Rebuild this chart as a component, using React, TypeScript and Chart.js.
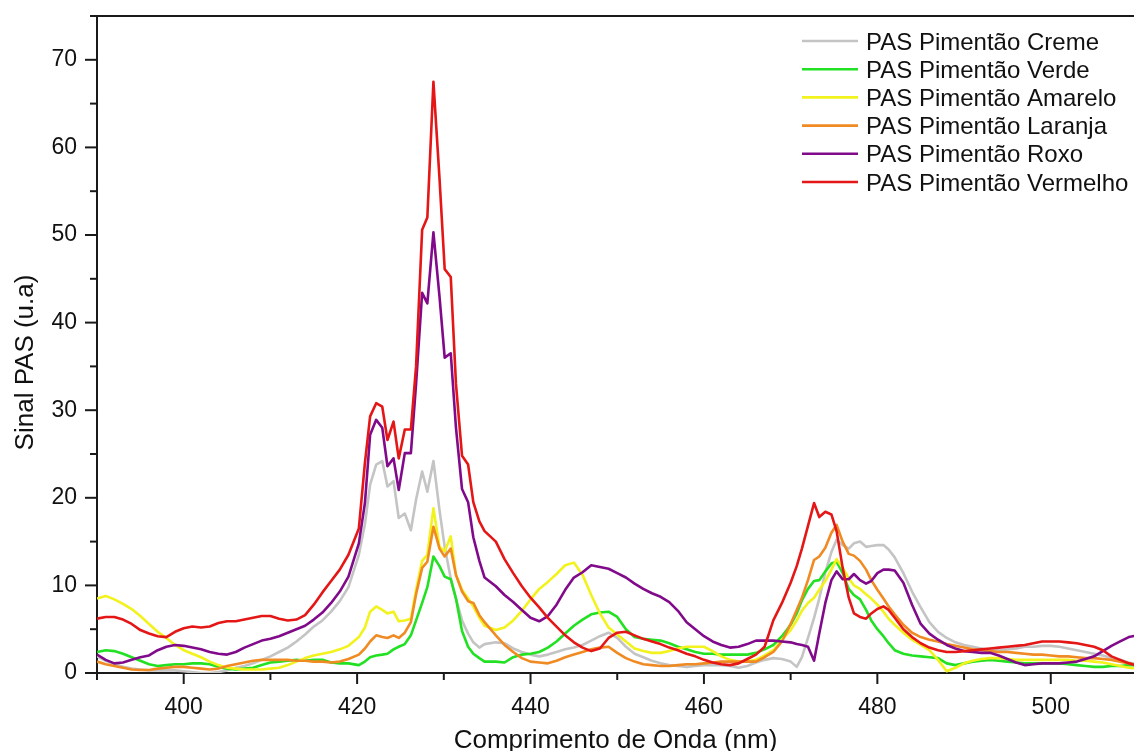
import React, { useEffect, useRef } from "react";
import { Chart, registerables } from "chart.js";

Chart.register(...registerables);

const FONT = "'Liberation Sans', Arial, Helvetica, sans-serif";
const AXIS_COLOR = "#1a1a1a";
const TEXT_COLOR = "#111111";

const xTitle = "Comprimento de Onda (nm)";
const yTitle = "Sinal PAS (u.a)";

const xTickValues = [390, 400, 410, 420, 430, 440, 450, 460, 470, 480, 490, 500];
const yTickValues = [0, 5, 10, 15, 20, 25, 30, 35, 40, 45, 50, 55, 60, 65, 70, 75];

const seriesLabels = [
  "PAS Pimentão Creme",
  "PAS Pimentão Verde",
  "PAS Pimentão Amarelo",
  "PAS Pimentão Laranja",
  "PAS Pimentão Roxo",
  "PAS Pimentão Vermelho",
];
const seriesColors = ["#c4c4c4", "#22e022", "#f2f21c", "#f08a22", "#800a8a", "#e41616"];

// wavelength (nm)
const wavelengths = [
  390, 391, 392, 393, 394, 395, 396, 397, 398, 399,
  400, 401, 402, 403, 404, 405, 406, 407, 408, 409,
  410, 411, 412, 413, 414, 415, 416, 417, 418, 419,
  420.2, 420.9, 421.5, 422.2, 422.9, 423.5, 424.2, 424.8, 425.5, 426.2, 426.8, 427.5,
  428.1, 428.8, 429.5, 430.1, 430.8, 431.4, 432.1, 432.8, 433.4, 434.1, 434.7,
  436, 437, 438, 439, 440, 441, 442, 443, 444, 445, 446, 447, 448, 449, 450, 451,
  452, 453, 454, 455, 456, 457, 458, 459, 460, 461, 462, 463, 464, 465, 466, 467, 468, 469,
  470.0, 470.7, 471.3, 472.0, 472.7, 473.3, 474.0, 474.7, 475.3, 476.0, 476.7, 477.3,
  478.0, 478.7, 479.3, 480.0, 480.7, 481.3, 482.0,
  483, 484, 485, 486, 487, 488, 489, 490, 491, 492, 493, 494, 495, 496, 497, 498,
  499, 500, 501, 502, 503, 504, 505, 506, 507, 508, 509, 510,
];

const creme = [
  1.9, 1.4, 1.0, 0.7, 0.5, 0.4, 0.3, 0.3, 0.3, 0.3, 0.2, 0.1, 0.0, 0.0, 0.1, 0.3, 0.6, 0.8, 1.1, 1.5,
  1.9, 2.4, 2.9, 3.6, 4.4, 5.3, 6.0, 7.0, 8.2, 9.8,
  13.5, 17.0, 21.5, 23.8, 24.2, 21.3, 21.9, 17.7, 18.2, 16.3, 19.8, 23.0, 20.7, 24.2, 18.6, 14.4,
  10.8, 8.5, 6.0, 4.5, 3.5, 2.9, 3.3,
  3.5, 3.4, 2.8, 2.4, 2.1, 1.9, 2.1, 2.4, 2.7, 2.9, 3.2, 3.7, 4.2, 4.6, 4.0, 3.0, 2.2, 1.8, 1.4, 1.1,
  0.9, 0.8, 0.7, 0.8, 0.9, 0.9, 0.9, 0.8, 0.6, 0.8, 1.2, 1.5, 1.7, 1.6,
  1.3, 0.7, 1.8, 4.0, 6.3, 8.5, 11.5, 13.8, 15.2, 14.6, 14.2, 14.8, 15.0, 14.4, 14.5, 14.6, 14.6, 14.1, 13.2,
  11.4, 9.3, 7.5, 5.8, 4.7, 4.0, 3.5, 3.2, 3.0, 2.8, 2.6, 2.6, 2.7, 2.8, 3.0, 3.0, 3.1, 3.1, 3.0, 2.8,
  2.6, 2.4, 2.2, 2.0, 1.7, 1.5, 1.2, 1.0,
];

const verde = [
  2.4, 2.6, 2.5, 2.2, 1.8, 1.4, 1.0, 0.8, 0.9, 1.0, 1.0, 1.1, 1.1, 1.0, 0.7, 0.5, 0.4, 0.5, 0.6, 0.9,
  1.2, 1.3, 1.4, 1.5, 1.4, 1.5, 1.5, 1.2, 1.1, 1.1,
  0.9, 1.3, 1.8, 2.0, 2.1, 2.2, 2.7, 3.0, 3.3, 4.3, 6.0, 8.0, 9.8, 13.3, 12.2, 11.0, 10.7, 8.5, 4.8,
  3.0, 2.2, 1.7, 1.3,
  1.3, 1.2, 1.8, 2.1, 2.2, 2.4, 2.9, 3.6, 4.5, 5.4, 6.1, 6.7, 6.9, 7.0, 6.4, 5.0, 4.1, 3.9, 3.8, 3.7,
  3.4, 3.0, 2.7, 2.4, 2.2, 2.2, 2.1, 2.1, 2.1, 2.1, 2.3, 2.7, 3.2, 4.2,
  5.5, 6.8, 8.3, 9.6, 10.5, 10.6, 11.6, 12.5, 12.7, 11.4, 9.6, 8.9, 8.4, 7.2, 6.0, 5.0, 4.2, 3.4, 2.6,
  2.2, 2.0, 1.9, 1.8, 1.7, 1.1, 0.9, 1.1, 1.3, 1.4, 1.5, 1.4, 1.3, 1.2, 1.1, 1.1, 1.1, 1.1, 1.1, 1.0,
  0.9, 0.8, 0.7, 0.7, 0.8, 0.8, 0.9, 0.9,
];

const amarelo = [
  8.5, 8.8, 8.4, 7.9, 7.3, 6.5, 5.6, 4.7, 4.0, 3.2, 2.6, 2.2, 1.8, 1.3, 0.9, 0.6, 0.5, 0.4, 0.4, 0.4,
  0.5, 0.6, 0.9, 1.3, 1.7, 2.0, 2.2, 2.4, 2.7, 3.1,
  4.1, 5.2, 7.0, 7.6, 7.2, 6.8, 7.0, 5.9, 6.0, 6.2, 9.5, 12.8, 13.5, 18.8, 14.4, 13.9, 15.6, 11.2, 9.5,
  8.5, 7.6, 6.3, 5.4,
  4.9, 5.2, 6.0, 7.1, 8.4, 9.6, 10.4, 11.3, 12.3, 12.6, 11.2, 8.9, 6.8, 5.2, 4.4, 3.6, 2.8, 2.5, 2.3, 2.3,
  2.5, 2.8, 3.0, 3.0, 3.0, 2.5, 1.9, 1.5, 1.3, 1.3, 1.5, 2.0, 2.6, 3.8,
  4.9, 6.0, 7.1, 8.0, 8.6, 9.5, 10.5, 11.8, 13.0, 12.0, 10.8, 10.0, 9.6, 9.0, 8.5, 7.8, 7.0, 6.2, 5.5,
  4.6, 3.8, 3.2, 2.6, 1.5, 0.2, 0.6, 1.1, 1.4, 1.6, 1.7, 1.7, 1.6, 1.5, 1.5, 1.5, 1.5, 1.5, 1.5, 1.5,
  1.4, 1.4, 1.3, 1.2, 1.0, 0.8, 0.6, 0.5,
];

const laranja = [
  1.3, 1.0, 0.8, 0.6, 0.4, 0.35, 0.35, 0.5, 0.6, 0.7, 0.7, 0.6, 0.5, 0.4, 0.5, 0.8, 1.0, 1.2, 1.4, 1.5,
  1.5, 1.5, 1.5, 1.4, 1.4, 1.3, 1.3, 1.2, 1.3, 1.6,
  2.1, 2.8, 3.6, 4.3, 4.1, 4.0, 4.3, 4.0, 4.6, 5.8, 9.0, 12.0, 12.7, 16.7, 14.2, 13.3, 14.2, 11.2, 9.3,
  8.2, 8.0, 6.6, 5.8,
  4.3, 3.2, 2.4, 1.7, 1.3, 1.2, 1.1, 1.4, 1.8, 2.1, 2.4, 2.7, 2.9, 3.0, 2.3, 1.7, 1.3, 1.0, 0.9, 0.8,
  0.8, 0.9, 1.0, 1.0, 1.1, 1.2, 1.3, 1.3, 1.3, 1.3, 1.3, 1.8, 2.4, 3.6,
  5.6, 7.2, 8.6, 10.6, 12.9, 13.3, 14.3, 16.0, 16.9, 15.0, 13.6, 13.4, 12.8, 11.8, 10.6, 9.5, 8.5, 7.6, 6.7,
  5.5, 4.6, 4.1, 3.8, 3.6, 3.3, 3.1, 2.9, 2.7, 2.6, 2.5, 2.4, 2.4, 2.3, 2.2, 2.1, 2.1, 2.0, 1.9, 1.9,
  1.8, 1.7, 1.7, 1.6, 1.5, 1.3, 1.1, 0.9,
];

const roxo = [
  2.1, 1.5, 1.1, 1.2, 1.5, 1.8, 2.0, 2.6, 3.0, 3.2, 3.1, 2.9, 2.7, 2.4, 2.2, 2.1, 2.4, 2.9, 3.3, 3.7,
  3.9, 4.2, 4.6, 5.0, 5.4, 6.1, 6.9, 8.0, 9.3, 11.0,
  14.8, 19.4, 27.2, 28.9, 28.0, 23.6, 24.5, 20.9, 25.1, 25.1, 33.0, 43.4, 42.2, 50.3, 43.0, 36.0, 36.5,
  28.0, 21.0, 19.5, 15.5, 12.8, 10.9,
  9.9, 8.9, 8.1, 7.2, 6.3, 5.9, 6.5, 7.8, 9.5, 10.9, 11.5, 12.3, 12.1, 11.9, 11.4, 10.9, 10.2, 9.6, 9.1, 8.7,
  8.1, 7.1, 5.8, 5.0, 4.2, 3.6, 3.2, 2.9, 3.0, 3.3, 3.7, 3.7, 3.7, 3.6,
  3.5, 3.3, 3.2, 3.0, 1.4, 4.5, 8.0, 10.6, 11.6, 10.7, 10.7, 11.3, 10.6, 10.2, 10.5, 11.4, 11.8, 11.8, 11.7,
  10.3, 7.8, 5.6, 4.5, 3.8, 3.2, 2.8, 2.5, 2.4, 2.3, 2.3, 2.0, 1.6, 1.2, 0.9, 1.0, 1.1, 1.1, 1.1, 1.2,
  1.3, 1.6, 1.9, 2.5, 3.1, 3.6, 4.1, 4.3,
];

const vermelho = [
  6.2, 6.4, 6.4, 6.1, 5.6, 4.9, 4.5, 4.2, 4.1, 4.7, 5.1, 5.3, 5.2, 5.3, 5.7, 5.9, 5.9, 6.1, 6.3, 6.5,
  6.5, 6.2, 6.0, 6.1, 6.6, 7.8, 9.2, 10.5, 11.8, 13.5,
  16.5, 24.0, 29.3, 30.8, 30.4, 26.6, 28.7, 24.5, 27.8, 27.8, 35.0, 50.6, 52.0, 67.5, 56.5, 46.1, 45.2,
  33.0, 24.8, 23.8, 19.5, 17.3, 16.2,
  15.0, 13.0, 11.4, 9.9, 8.6, 7.5, 6.3, 5.3, 4.3, 3.5, 2.9, 2.5, 2.8, 4.0, 4.6, 4.7, 4.3, 3.9, 3.6, 3.3,
  2.9, 2.6, 2.2, 1.9, 1.5, 1.2, 1.0, 0.9, 1.1, 1.6, 2.1, 3.0, 6.0, 8.0,
  10.3, 12.2, 14.2, 16.8, 19.4, 17.8, 18.4, 18.1, 16.2, 12.0, 8.6, 6.8, 6.4, 6.2, 6.8, 7.3, 7.6, 7.2, 6.3,
  5.0, 4.1, 3.4, 2.9, 2.6, 2.4, 2.4, 2.5, 2.6, 2.7, 2.8, 2.9, 3.0, 3.1, 3.2, 3.4, 3.6, 3.6, 3.6, 3.5,
  3.4, 3.2, 3.0, 2.6, 1.9, 1.5, 1.1, 0.8,
];

const seriesValues = [creme, verde, amarelo, laranja, roxo, vermelho];

const decorPlugin = {
  id: "decor",
  afterDraw(chart: any) {
    const { ctx, chartArea, scales } = chart;
    const xs = scales.x;
    const ys = scales.y;
    ctx.save();
    ctx.strokeStyle = AXIS_COLOR;
    ctx.lineWidth = 2;
    ctx.lineCap = "butt";
    // top frame
    ctx.beginPath();
    ctx.moveTo(chartArea.left - 1, chartArea.top);
    ctx.lineTo(chartArea.right, chartArea.top);
    ctx.stroke();
    // x ticks (outward)
    xs.ticks.forEach((t: any) => {
      const px = xs.getPixelForValue(t.value);
      const len = t.value % 20 === 0 ? 11 : 7;
      ctx.beginPath();
      ctx.moveTo(px, chartArea.bottom);
      ctx.lineTo(px, chartArea.bottom + len);
      ctx.stroke();
    });
    // y ticks (outward)
    ys.ticks.forEach((t: any) => {
      const py = ys.getPixelForValue(t.value);
      const len = t.value % 10 === 0 ? 12 : 7;
      ctx.beginPath();
      ctx.moveTo(chartArea.left, py);
      ctx.lineTo(chartArea.left - len, py);
      ctx.stroke();
    });

    // axis titles
    ctx.fillStyle = TEXT_COLOR;
    ctx.font = `26px ${FONT}`;
    ctx.textAlign = "center";
    ctx.textBaseline = "alphabetic";
    ctx.fillText(xTitle, (chartArea.left + chartArea.right) / 2, chartArea.bottom + 75);
    ctx.save();
    ctx.translate(chartArea.left - 64, (chartArea.top + chartArea.bottom) / 2 + 18);
    ctx.rotate(-Math.PI / 2);
    ctx.fillText(yTitle, 0, 0);
    ctx.restore();

    // legend
    ctx.font = `24px ${FONT}`;
    ctx.textAlign = "left";
    ctx.textBaseline = "alphabetic";
    const lx = chartArea.right - 332;
    chart.data.datasets.forEach((ds: any, i: number) => {
      const ly = chartArea.top + 25 + i * 28.2;
      ctx.strokeStyle = ds.borderColor;
      ctx.lineWidth = 2.6;
      ctx.beginPath();
      ctx.moveTo(lx, ly);
      ctx.lineTo(lx + 56, ly);
      ctx.stroke();
      ctx.fillStyle = TEXT_COLOR;
      ctx.fillText(ds.label, lx + 64, ly + 8.5);
    });
    ctx.restore();
  },
};

export default function App() {
  const canvasRef = useRef<HTMLCanvasElement | null>(null);

  useEffect(() => {
    const canvas = canvasRef.current;
    if (!canvas) return;
    const tickFont = { family: FONT, size: 23 };
    const chart = new Chart(canvas, {
      type: "line",
      data: {
        datasets: seriesValues.map((vals, i) => ({
          label: seriesLabels[i],
          data: wavelengths.map((w, j) => ({ x: w, y: vals[j] })),
          borderColor: seriesColors[i],
          backgroundColor: seriesColors[i],
          borderWidth: 2.6,
          pointRadius: 0,
          fill: false,
          tension: 0,
          borderJoinStyle: "round",
          order: seriesValues.length - i,
        })),
      },
      options: {
        animation: false,
        responsive: false,
        maintainAspectRatio: false,
        events: [],
        layout: { padding: { top: 16, left: 0, right: 0, bottom: 0 } },
        plugins: {
          legend: { display: false },
          tooltip: { enabled: false },
          title: { display: false },
        },
        scales: {
          x: {
            type: "linear",
            min: 390,
            max: 509.6,
            afterBuildTicks: (s: any) => {
              s.ticks = xTickValues.map((v) => ({ value: v }));
            },
            afterFit: (s: any) => {
              s.height = 78;
              s.paddingLeft = 0;
              s.paddingRight = 0;
            },
            grid: { display: false, drawTicks: false },
            border: { display: true, color: AXIS_COLOR, width: 2 },
            ticks: {
              autoSkip: false,
              maxRotation: 0,
              minRotation: 0,
              padding: 21,
              color: TEXT_COLOR,
              font: tickFont,
              callback: (v: any) => (Number(v) % 20 === 0 ? String(v) : ""),
            },
          },
          y: {
            type: "linear",
            min: 0,
            max: 75,
            afterBuildTicks: (s: any) => {
              s.ticks = yTickValues.map((v) => ({ value: v }));
            },
            afterFit: (s: any) => {
              s.width = 97;
              s.paddingTop = 0;
              s.paddingBottom = 0;
            },
            grid: { display: false, drawTicks: false },
            border: { display: true, color: AXIS_COLOR, width: 2 },
            ticks: {
              padding: 20,
              color: TEXT_COLOR,
              font: tickFont,
              callback: (v: any) => (Number(v) % 10 === 0 ? String(v) : ""),
            },
          },
        },
      },
      plugins: [decorPlugin],
    });
    return () => chart.destroy();
  }, []);

  return (
    <div style={{ position: "absolute", left: 0, top: 0, width: 1134, height: 751, background: "#ffffff" }}>
      <canvas ref={canvasRef} width={1134} height={751} style={{ display: "block", width: 1134, height: 751 }} />
    </div>
  );
}
